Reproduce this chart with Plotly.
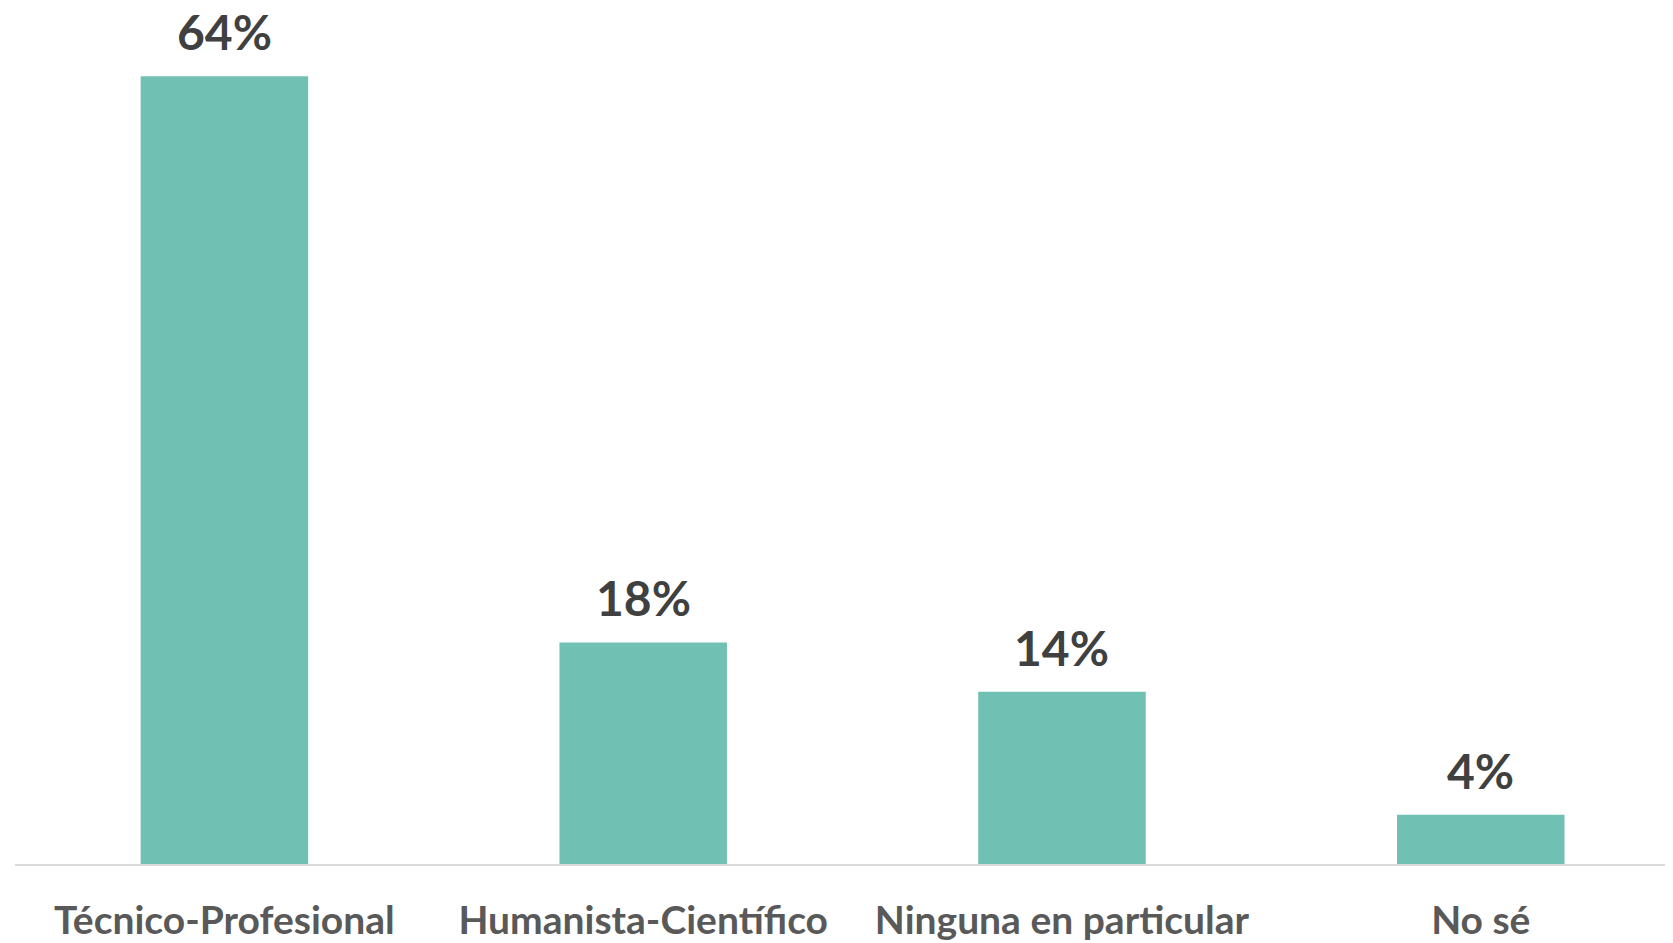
import plotly.graph_objects as go

categories = ["Técnico-Profesional", "Humanista-Científico", "Ninguna en particular", "No sé"]
values = [64, 18, 14, 4]
labels = ["64%", "18%", "14%", "4%"]

BAR = "#70C1B3"
FONT = "Lato"

fig = go.Figure(go.Bar(
    x=categories, y=values, marker=dict(color=BAR, line=dict(width=0)),
    width=0.4, hoverinfo="skip",
))

for c, v, t in zip(categories, values, labels):
    fig.add_annotation(x=c, y=v, text=f"<b>{t}</b>", showarrow=False,
                       yanchor="bottom", yshift=14,
                       font=dict(family=FONT, size=48, color="#404040"))

# page body has an 8px margin, so the figure is sized to fit the 1673x943 window
fig.update_layout(
    width=1665, height=935,
    margin=dict(l=7, r=0, t=0, b=79),
    paper_bgcolor="white", plot_bgcolor="white",
    showlegend=False,
    xaxis=dict(range=[-0.5, 3.459], showgrid=False, showline=True,
               linecolor="#D9D9D9", linewidth=2, ticks="", automargin=False,
               tickfont=dict(family=FONT, size=39, color="#595959", weight="bold"),
               ticklabelstandoff=21),
    yaxis=dict(range=[0, 69.54], visible=False, automargin=False),
)
fig.write_html("out.html")
